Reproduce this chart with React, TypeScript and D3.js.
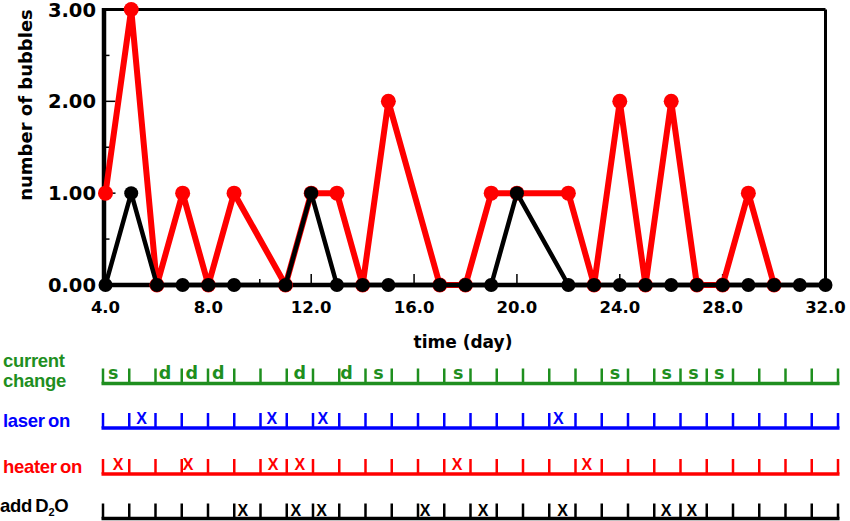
import React from "react";
import * as d3 from "d3";

const W = 850;
const H = 521;

// plot series (time in days, number of bubbles)
const blackDays = [4, 5, 6, 7, 8, 9, 11, 12, 13, 14, 15, 17, 18, 19, 20, 22, 23, 24, 25, 26, 27, 28, 29, 30, 31, 32];
const blackBubbles = [0, 1, 0, 0, 0, 0, 0, 1, 0, 0, 0, 0, 0, 0, 1, 0, 0, 0, 0, 0, 0, 0, 0, 0, 0, 0];
const redDays = [4, 5, 6, 7, 8, 9, 11, 12, 13, 14, 15, 17, 18, 19, 20, 22, 23, 24, 25, 26, 27, 28, 29, 30];
const redBubbles = [1, 3, 0, 1, 0, 1, 0, 1, 1, 0, 2, 0, 0, 1, 1, 1, 0, 2, 0, 2, 0, 0, 1, 0];

const xTicks = [4, 8, 12, 16, 20, 24, 28, 32];
const xMinorTicks = [6, 10, 14, 18, 22, 26, 30];
const yTicks = [0, 1, 2, 3];
const yMinorTicks = [0.5, 1.5, 2.5];

// event timelines
const timelineDays = d3.range(4, 33);
const currentDays = [4.39, 6.36, 7.38, 8.39, 11.5, 13.28, 14.49, 17.53, 23.5, 25.47, 26.49, 27.47];
const currentMarks = ["s", "d", "d", "d", "d", "d", "s", "s", "s", "s", "s", "s"];
const laserDays = [5.47, 10.43, 12.37, 21.35];
const heaterDays = [4.57, 7.24, 10.48, 11.5, 17.49, 22.43];
const d2oDays = [9.33, 11.35, 12.33, 16.27, 18.48, 21.51, 25.45, 26.43];

const GREEN = "#1f8f1f";
const BLUE = "#0000ff";
const RED = "#ff0000";
const BLACK = "#000000";

export default function App() {
  const x = d3.scaleLinear().domain([4, 32]).range([105.5, 825.5]);
  const y = d3.scaleLinear().domain([0, 3]).range([285, 9.5]);
  const tx = d3.scaleLinear().domain([4, 32]).range([103, 838]);
  const line = d3
    .line<[number, number]>()
    .x((d) => x(d[0]))
    .y((d) => y(d[1]));
  const red: [number, number][] = redDays.map((d, i) => [d, redBubbles[i]]);
  const black: [number, number][] = blackDays.map((d, i) => [d, blackBubbles[i]]);
  const fx = d3.format(".1f");
  const fy = d3.format(".2f");

  const rows = [
    { base: 383.5, color: GREEN, days: currentDays, marks: currentMarks, font: "DejaVu Sans", size: 17.5, dy: -5 },
    { base: 428, color: BLUE, days: laserDays, marks: laserDays.map(() => "X"), font: "Liberation Sans", size: 16, dy: -4 },
    { base: 474, color: RED, days: heaterDays, marks: heaterDays.map(() => "X"), font: "Liberation Sans", size: 16, dy: -4 },
    { base: 518.5, color: BLACK, days: d2oDays, marks: d2oDays.map(() => "X"), font: "Liberation Sans", size: 16, dy: -2.5 },
  ];

  return (
    <svg
      width={W}
      height={H}
      style={{ position: "absolute", left: 0, top: 0, background: "#fff" }}
      fontFamily="DejaVu Sans"
      fontWeight="bold"
    >
      {/* frame */}
      <line x1={x(4)} x2={x(32)} y1={y(3)} y2={y(3)} stroke={BLACK} strokeWidth={3} />
      <line x1={x(32)} x2={x(32)} y1={y(3)} y2={y(0)} stroke={BLACK} strokeWidth={3} />
      <line x1={x(4) - 1.5} x2={x(4) - 1.5} y1={y(3) - 1.5} y2={y(0) + 2} stroke={BLACK} strokeWidth={4.5} />
      <line x1={x(4) - 3} x2={x(32)} y1={y(0)} y2={y(0)} stroke={BLACK} strokeWidth={4.5} />

      {/* ticks */}
      {xTicks.map((t) => (
        <line key={"xt" + t} x1={x(t)} x2={x(t)} y1={y(0)} y2={y(0) - 11} stroke={BLACK} strokeWidth={1.5} />
      ))}
      {xMinorTicks.map((t) => (
        <line key={"xm" + t} x1={x(t)} x2={x(t)} y1={y(0)} y2={y(0) - 6} stroke={BLACK} strokeWidth={1.5} />
      ))}
      {yTicks.map((t) => (
        <line key={"yt" + t} x1={x(4)} x2={x(4) + 10} y1={y(t)} y2={y(t)} stroke={BLACK} strokeWidth={1.5} />
      ))}
      {yMinorTicks.map((t) => (
        <line key={"ym" + t} x1={x(4)} x2={x(4) + 4} y1={y(t)} y2={y(t)} stroke={BLACK} strokeWidth={1.5} />
      ))}

      {/* tick labels */}
      {yTicks.map((t) => (
        <text key={"yl" + t} x={96} y={y(t) + 7} textAnchor="end" fontSize={19.5} fill={BLACK}>
          {fy(t)}
        </text>
      ))}
      {xTicks.map((t) => (
        <text key={"xl" + t} x={x(t)} y={313} textAnchor="middle" fontSize={16.5} fill={BLACK}>
          {fx(t)}
        </text>
      ))}

      {/* axis titles */}
      <text transform="translate(32,105) rotate(-90)" textAnchor="middle" fontSize={18} fill={BLACK}>
        number of bubbles
      </text>
      <text x={463} y={348} textAnchor="middle" fontSize={17} fill={BLACK}>
        time (day)
      </text>

      {/* series */}
      <path d={line(red) ?? ""} fill="none" stroke={RED} strokeWidth={6} strokeLinejoin="round" />
      {red.map((d, i) => (
        <circle key={"r" + i} cx={x(d[0])} cy={y(d[1])} r={7.5} fill={RED} />
      ))}
      <path d={line(black) ?? ""} fill="none" stroke={BLACK} strokeWidth={4.5} strokeLinejoin="round" />
      {black.map((d, i) => (
        <circle key={"b" + i} cx={x(d[0])} cy={y(d[1])} r={7} fill={BLACK} />
      ))}

      {/* timelines */}
      {rows.map((row, ri) => (
        <g key={"row" + ri}>
          <line x1={tx(4) - 1.5} x2={tx(32) + 1.5} y1={row.base} y2={row.base} stroke={row.color} strokeWidth={3.5} />
          {timelineDays.map((d) => (
            <line key={d} x1={tx(d)} x2={tx(d)} y1={row.base} y2={row.base - 15} stroke={row.color} strokeWidth={2.5} />
          ))}
          {row.days.map((d, i) => (
            <text
              key={"m" + i}
              x={tx(d)}
              y={row.base + row.dy}
              textAnchor="middle"
              fontFamily={row.font}
              fontSize={row.size}
              fill={row.color}
            >
              {row.marks[i]}
            </text>
          ))}
        </g>
      ))}

      {/* row labels */}
      <g fontFamily="Liberation Sans" fontSize={18.5} letterSpacing={-0.3}>
        <text x={3} y={366.5} fill={GREEN}>current</text>
        <text x={3} y={386.5} fill={GREEN}>change</text>
        <text x={3} y={426.5} fill={BLUE} wordSpacing={-1.5}>laser on</text>
        <text x={3} y={472.5} fill={RED} wordSpacing={-1.5}>heater on</text>
        <text x={0} y={511.5} fill={BLACK} wordSpacing={-1.5}>
          add D<tspan fontSize={11} dy={4}>2</tspan>
          <tspan dy={-4}>O</tspan>
        </text>
      </g>
    </svg>
  );
}
